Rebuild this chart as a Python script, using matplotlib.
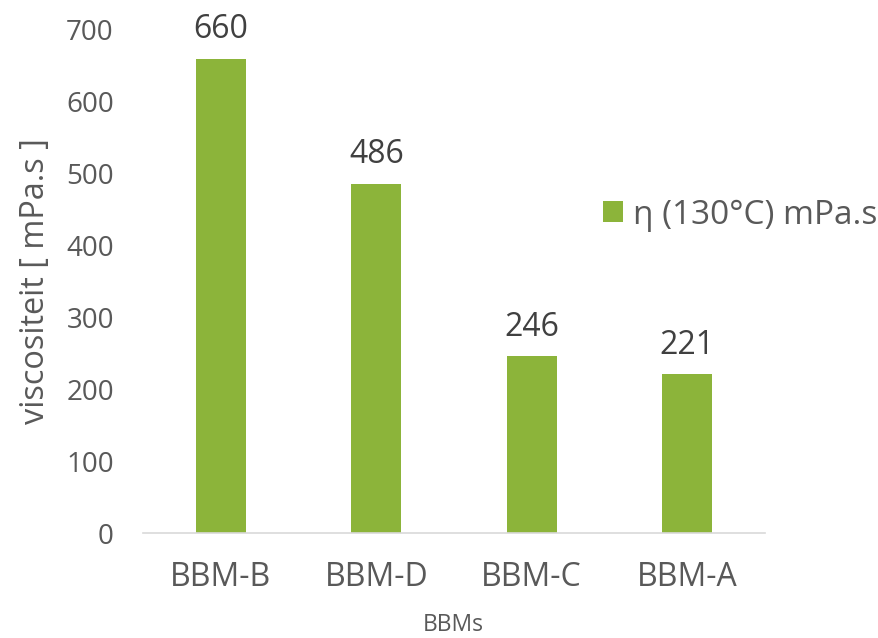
import matplotlib

matplotlib.use("Agg")
import matplotlib.pyplot as plt

plt.rcParams["font.family"] = ["Open Sans", "DejaVu Sans"]

GREEN = "#8cb43a"
INK = "#595959"

categories = ["BBM-B", "BBM-D", "BBM-C", "BBM-A"]
viscosity = [660, 486, 246, 221]
yticks = [0, 100, 200, 300, 400, 500, 600, 700]

fig = plt.figure(figsize=(8.79, 6.38), dpi=100)
ax = fig.add_axes([143 / 879, 1 - 533 / 638, (765 - 143) / 879, (533 - 30) / 638])

x = range(len(categories))
bars = ax.bar(x, viscosity, width=0.32, color=GREEN, label="η (130°C) mPa.s", zorder=2)
for rect, v in zip(bars, viscosity):
    ax.annotate(str(v), (rect.get_x() + rect.get_width() / 2, v),
                xytext=(0, 9), textcoords="offset points",
                ha="center", va="bottom", fontsize=23, color="#404040")

ax.set_xlim(-0.5, 3.5)
ax.set_ylim(0, 700)
ax.set_xticks(list(x))
ax.set_xticklabels(categories)
ax.set_yticks(yticks)
ax.tick_params(length=0, colors=INK)
ax.tick_params(axis="y", labelsize=20, pad=21)
ax.tick_params(axis="x", labelsize=23, pad=20)
for side in ("top", "right", "left"):
    ax.spines[side].set_visible(False)
ax.spines["bottom"].set_color("#d9d9d9")
ax.spines["bottom"].set_linewidth(1.2)

ax.set_ylabel("viscositeit [ mPa.s ]", fontsize=23.4, color=INK)
ax.yaxis.set_label_coords(-0.146, 0.5)
fig.text(453 / 879, 1 - 625 / 638, "BBMs", ha="center", va="center",
         fontsize=16.5, color=INK)

fig.legend(loc="center left", bbox_to_anchor=(603 / 879, 1 - 215 / 638),
           frameon=False, fontsize=24, labelcolor=INK, handlelength=0.6,
           handleheight=0.6, handletextpad=0.3, borderpad=0, borderaxespad=0)

fig.savefig("out.png", dpi=100)
